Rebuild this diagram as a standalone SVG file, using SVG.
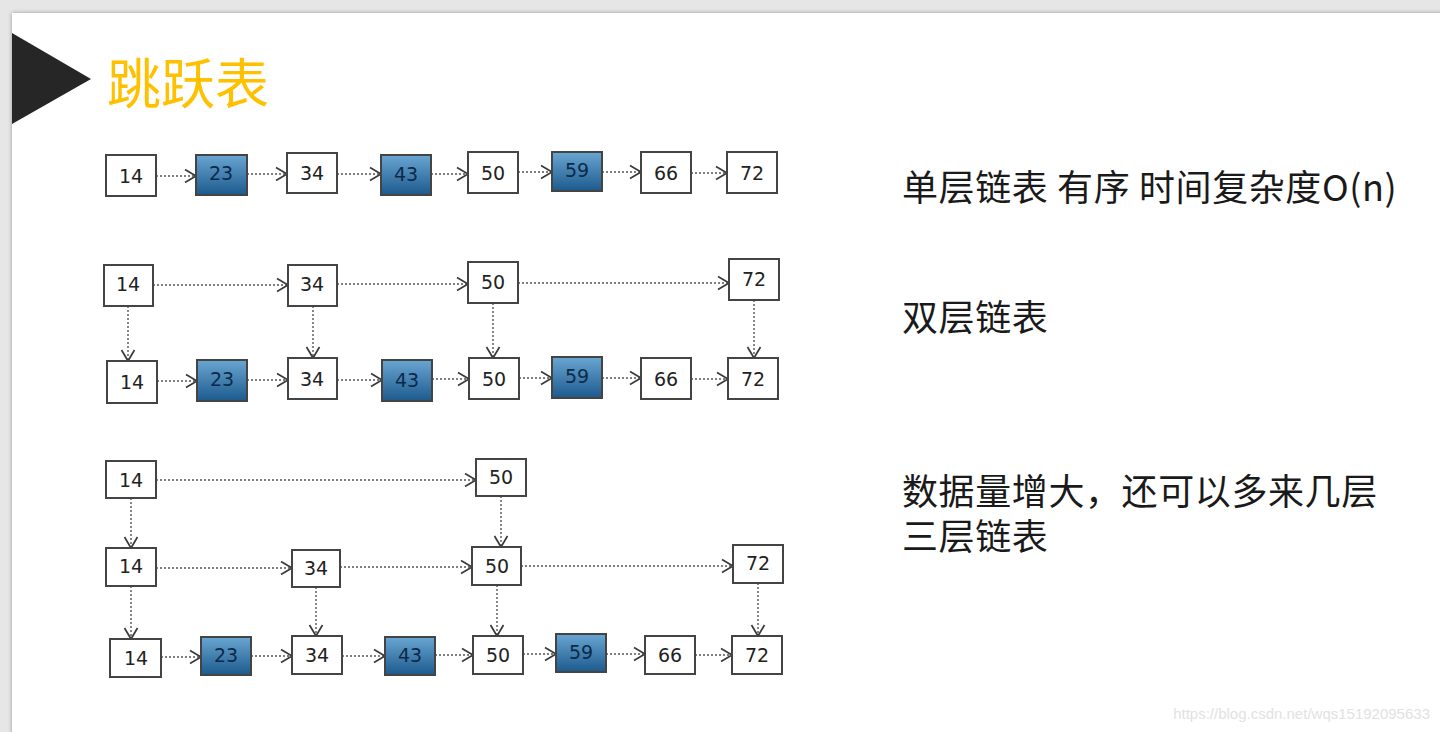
<svg xmlns="http://www.w3.org/2000/svg" width="1440" height="732" viewBox="0 0 1440 732">
<defs>
<linearGradient id="blue" x1="0" y1="0" x2="0" y2="1">
<stop offset="0" stop-color="#6aa6d2"/>
<stop offset="1" stop-color="#1c5a8e"/>
</linearGradient>
<marker id="arr" markerUnits="userSpaceOnUse" markerWidth="16" markerHeight="16" refX="12" refY="8" orient="auto">
<path d="M1,1.5 L12,8 L1,14.5" fill="none" stroke="#3a3a3a" stroke-width="1.7"/>
</marker>
<filter id="sh" x="-5%" y="-5%" width="110%" height="110%">
<feGaussianBlur stdDeviation="2"/>
</filter>
</defs>
<style>
.n rect{fill:#fff;stroke:#444;stroke-width:2}
.n.b rect{fill:url(#blue)}
.n text{font-family:"DejaVu Sans",Verdana,sans-serif;font-size:19px;fill:#222;text-anchor:middle;dominant-baseline:central}
.n.b text{fill:#0c2a48}
#connectors line{stroke:#555;stroke-width:1.4;stroke-dasharray:2 2;marker-end:url(#arr)}
.cj{font-family:"Noto Sans CJK SC","Noto Sans",sans-serif;font-size:36px;letter-spacing:0.6px;fill:#1a1a1a}
</style>
<rect width="1440" height="732" fill="#e6e6e6"/>
<rect x="12" y="13" width="1440" height="730" fill="#999" filter="url(#sh)"/>
<rect x="12" y="13" width="1440" height="730" fill="#fff"/>
<polygon points="12,33 91,79 12,124" fill="#262626"/>
<text x="107" y="104" font-family="Noto Sans CJK SC,sans-serif" font-size="54" fill="#FFC000">跳跃表</text>

<text class="cj" x="902" y="201">单层链表 有序 时间复杂度O(n)</text>
<text class="cj" x="902" y="331">双层链表</text>
<text class="cj" x="902" y="505">数据量增大，还可以多来几层</text>
<text class="cj" x="902" y="550">三层链表</text>
<text x="1430" y="719" text-anchor="end" font-family="Liberation Sans,Arial,sans-serif" font-size="15" fill="#e2e2e2">https://blog.csdn.net/wqs15192095633</text>

<g id="connectors">
<line x1="156" y1="176" x2="196" y2="176"/>
<line x1="247" y1="174" x2="287" y2="174"/>
<line x1="337" y1="174" x2="381" y2="174"/>
<line x1="431" y1="174" x2="468" y2="174"/>
<line x1="518" y1="172" x2="552" y2="172"/>
<line x1="602" y1="172" x2="641" y2="172"/>
<line x1="691" y1="173" x2="727" y2="173"/>

<line x1="153" y1="285" x2="288" y2="285"/>
<line x1="337" y1="284" x2="468" y2="284"/>
<line x1="518" y1="283" x2="729" y2="283"/>
<line x1="128" y1="306" x2="128" y2="361"/>
<line x1="313" y1="306" x2="313" y2="358"/>
<line x1="493" y1="303" x2="493" y2="358"/>
<line x1="754" y1="300" x2="754" y2="358"/>
<line x1="157" y1="381" x2="197" y2="381"/>
<line x1="247" y1="380" x2="288" y2="380"/>
<line x1="337" y1="380" x2="382" y2="380"/>
<line x1="432" y1="379" x2="469" y2="379"/>
<line x1="519" y1="378" x2="552" y2="378"/>
<line x1="602" y1="378" x2="641" y2="378"/>
<line x1="691" y1="379" x2="728" y2="379"/>

<line x1="156" y1="480" x2="476" y2="480"/>
<line x1="131" y1="498" x2="131" y2="548"/>
<line x1="501" y1="496" x2="501" y2="547"/>
<line x1="156" y1="568" x2="292" y2="568"/>
<line x1="340" y1="567" x2="472" y2="567"/>
<line x1="521" y1="566" x2="733" y2="566"/>
<line x1="131" y1="586" x2="131" y2="639"/>
<line x1="316" y1="587" x2="316" y2="636"/>
<line x1="497" y1="585" x2="497" y2="636"/>
<line x1="758" y1="583" x2="758" y2="636"/>
<line x1="161" y1="657" x2="201" y2="657"/>
<line x1="251" y1="656" x2="292" y2="656"/>
<line x1="342" y1="656" x2="385" y2="656"/>
<line x1="435" y1="655" x2="473" y2="655"/>
<line x1="523" y1="654" x2="556" y2="654"/>
<line x1="606" y1="654" x2="645" y2="654"/>
<line x1="695" y1="655" x2="732" y2="655"/>
</g>

<g id="l1-14" class="n"><rect x="106" y="155" width="50" height="41"/><text x="131" y="176">14</text></g>
<g id="l1-23" class="n b"><rect x="196" y="155" width="51" height="40"/><text x="221" y="173">23</text></g>
<g id="l1-34" class="n"><rect x="287" y="153" width="50" height="40"/><text x="312" y="173">34</text></g>
<g id="l1-43" class="n b"><rect x="381" y="155" width="50" height="40"/><text x="406" y="174">43</text></g>
<g id="l1-50" class="n"><rect x="468" y="152" width="50" height="41"/><text x="493" y="173">50</text></g>
<g id="l1-59" class="n b"><rect x="552" y="152" width="50" height="39"/><text x="577" y="170">59</text></g>
<g id="l1-66" class="n"><rect x="641" y="152" width="50" height="41"/><text x="666" y="173">66</text></g>
<g id="l1-72" class="n"><rect x="727" y="152" width="50" height="41"/><text x="752" y="173">72</text></g>

<g id="l2t-14" class="n"><rect x="104" y="265" width="49" height="41"/><text x="128" y="284">14</text></g>
<g id="l2t-34" class="n"><rect x="288" y="265" width="49" height="41"/><text x="312" y="284">34</text></g>
<g id="l2t-50" class="n"><rect x="468" y="262" width="50" height="41"/><text x="493" y="282">50</text></g>
<g id="l2t-72" class="n"><rect x="729" y="259" width="50" height="41"/><text x="754" y="279">72</text></g>
<g id="l2b-14" class="n"><rect x="107" y="361" width="50" height="42"/><text x="132" y="382">14</text></g>
<g id="l2b-23" class="n b"><rect x="197" y="360" width="50" height="41"/><text x="222" y="379">23</text></g>
<g id="l2b-34" class="n"><rect x="288" y="358" width="49" height="41"/><text x="312" y="379">34</text></g>
<g id="l2b-43" class="n b"><rect x="382" y="360" width="50" height="41"/><text x="407" y="380">43</text></g>
<g id="l2b-50" class="n"><rect x="469" y="358" width="50" height="41"/><text x="494" y="379">50</text></g>
<g id="l2b-59" class="n b"><rect x="552" y="357" width="50" height="41"/><text x="577" y="376">59</text></g>
<g id="l2b-66" class="n"><rect x="641" y="358" width="50" height="41"/><text x="666" y="379">66</text></g>
<g id="l2b-72" class="n"><rect x="728" y="358" width="50" height="41"/><text x="753" y="379">72</text></g>

<g id="l3t-14" class="n"><rect x="106" y="461" width="50" height="37"/><text x="131" y="480">14</text></g>
<g id="l3t-50" class="n"><rect x="476" y="459" width="50" height="37"/><text x="501" y="477">50</text></g>
<g id="l3m-14" class="n"><rect x="106" y="548" width="50" height="38"/><text x="131" y="566">14</text></g>
<g id="l3m-34" class="n"><rect x="292" y="550" width="48" height="37"/><text x="316" y="568">34</text></g>
<g id="l3m-50" class="n"><rect x="472" y="547" width="49" height="38"/><text x="497" y="566">50</text></g>
<g id="l3m-72" class="n"><rect x="733" y="545" width="50" height="38"/><text x="758" y="563">72</text></g>
<g id="l3b-14" class="n"><rect x="110" y="639" width="51" height="38"/><text x="136" y="658">14</text></g>
<g id="l3b-23" class="n b"><rect x="201" y="637" width="50" height="38"/><text x="226" y="655">23</text></g>
<g id="l3b-34" class="n"><rect x="292" y="636" width="50" height="38"/><text x="317" y="655">34</text></g>
<g id="l3b-43" class="n b"><rect x="385" y="637" width="50" height="38"/><text x="410" y="655">43</text></g>
<g id="l3b-50" class="n"><rect x="473" y="636" width="50" height="38"/><text x="498" y="655">50</text></g>
<g id="l3b-59" class="n b"><rect x="556" y="634" width="50" height="38"/><text x="581" y="652">59</text></g>
<g id="l3b-66" class="n"><rect x="645" y="636" width="50" height="38"/><text x="670" y="655">66</text></g>
<g id="l3b-72" class="n"><rect x="732" y="636" width="50" height="38"/><text x="757" y="655">72</text></g>
</svg>
